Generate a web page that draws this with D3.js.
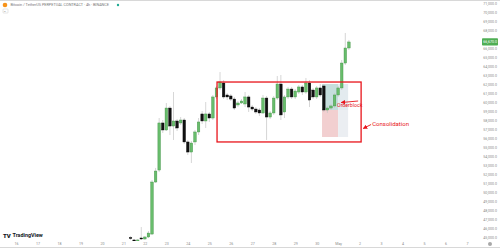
<!DOCTYPE html>
<html>
<head>
<meta charset="utf-8">
<script src="https://cdn.jsdelivr.net/npm/d3@7"></script>
<style>
  body { margin: 0; background: #fff; }
  svg { display: block; font-family: Roboto, "Liberation Sans", sans-serif; }
</style>
</head>
<body>
<div id="chart"></div>
<script>
"use strict";

// 4h candles, first bar at Apr 21 08:00
const firstBar = new Date(2024, 3, 21, 8);
const opens  = [44940,44670,44330,44890,44780,45000,45330,51110,52440,57670,56890,59330,57330,57890,57670,58000,55560,54440,55560,56670,
                58670,57890,58670,58220,60560,61560,62110,60780,60670,60330,59670,59890,59780,60560,59440,59220,59110,58780,60440,58330,
                58780,60440,62000,58890,60560,61440,60560,61110,61670,61110,62110,61330,60560,61560,61780,59110,59330,59560,60780,61560,
                64330,66000];
const highs  = [45110,44780,44780,46110,45110,45670,51330,52670,58220,58000,59890,59560,61110,58110,58330,58220,55780,55670,56890,58220,
                59000,60000,58890,60780,61780,63330,62440,61000,60890,60560,60110,60330,61110,60780,59670,59440,59330,60780,60670,59000,
                60670,62890,63000,60780,61670,61670,61440,61890,61890,62670,62440,61560,61780,62000,62000,59560,59780,61000,61780,64670,
                67670,66890];
const lows   = [44670,44220,44220,44670,44670,44890,45220,51000,52220,56560,56780,56330,55780,56780,57440,55330,54110,53220,55220,56330,
                57560,57110,57780,58000,60330,61330,60330,60220,60110,59110,59440,59780,59440,58890,59000,58670,58440,58670,55780,58110,
                58560,60220,58000,58220,60330,60330,60330,60890,60780,60890,59440,60330,60330,60560,58890,58780,59110,59330,60560,61330,
                64110,65780];
const closes = [44830,44440,44670,44780,45000,45440,51110,52330,57670,56890,59330,57330,57890,57110,58000,55560,54440,55440,56670,57780,
                57890,58670,58220,60560,61560,62220,60560,60560,60330,59330,59890,60110,60560,59440,59220,58890,58780,60440,58330,58780,
                60440,62000,58560,60560,61440,60560,61220,61670,61110,62110,60220,60560,61560,60780,59110,59330,59560,60780,61560,64330,
                66000,66670];

const priceTicks = [45000,46000,47000,48000,49000,50000,51000,52000,53000,54000,55000,56000,57000,58000,
                    59000,60000,61000,62000,63000,64000,65000,66000,67000,68000,69000,70000,71000];
const dayTicks = d3.timeDay.range(new Date(2024, 3, 16), new Date(2024, 4, 8));

// drawings: consolidation box, long position zone, notes
const boxStart = new Date(2024, 3, 25, 8, 40), boxEnd = new Date(2024, 4, 2, 1, 40);
const boxTop = 62220, boxBottom = 55560;
const posStart = new Date(2024, 3, 30, 6), posMid = new Date(2024, 4, 1, 0), posEnd = new Date(2024, 4, 1, 11, 10);
const posTarget = 62000, posEntry = 59110, posStop = 56110;
const notes = [
  { text: "Orderblock", t: new Date(2024, 3, 30, 22, 50), p: 59440, size: 5.2 },
  { text: "Consolidation", t: new Date(2024, 4, 2, 14), p: 57330, size: 6 }
];
const arrows = [
  { t0: new Date(2024, 4, 1, 22, 20), p0: 60110, t1: new Date(2024, 4, 1, 3, 20), p1: 59940 },
  { t0: new Date(2024, 4, 2, 12, 50), p0: 57500, t1: new Date(2024, 4, 2, 4), p1: 57060 }
];

const W = 500, H = 248;
const plotRight = 468, plotBottom = 241;

const candles = opens.map((o, i) => ({
  t: d3.timeHour.offset(firstBar, 4 * i), o: o, h: highs[i], l: lows[i], c: closes[i]
}));

const x = d3.scaleTime()
  .domain([new Date(2024, 3, 15, 6, 7), new Date(2024, 4, 7)])
  .range([0, 467]);
const y = d3.scaleLinear().domain([45000, 71000]).range([237, 3]);

const svg = d3.select("#chart").append("svg")
  .attr("width", W).attr("height", H);

svg.append("rect").attr("width", W).attr("height", H).attr("fill", "#fff");
svg.append("line").attr("x1", 0).attr("x2", W).attr("y1", 0.5).attr("y2", 0.5)
  .attr("stroke", "#d8d8d8");
svg.append("line").attr("x1", 0).attr("x2", W).attr("y1", H - 0.5).attr("y2", H - 0.5)
  .attr("stroke", "#d8d8d8");

svg.append("clipPath").attr("id", "plot")
  .append("rect").attr("width", plotRight).attr("height", plotBottom);

const g = svg.append("g").attr("clip-path", "url(#plot)");

// long position zone
const zones = [
  { a: posStart, b: posMid, top: posTarget, bot: posEntry, fill: "#c6dedd" },
  { a: posMid, b: posEnd, top: posTarget, bot: posEntry, fill: "#e3ebef" },
  { a: posStart, b: posMid, top: posEntry, bot: posStop, fill: "#f2cfd0" },
  { a: posMid, b: posEnd, top: posEntry, bot: posStop, fill: "#ebeef2" }
];
g.selectAll("rect.zone").data(zones).enter().append("rect")
  .attr("class", "zone")
  .attr("x", d => x(d.a)).attr("width", d => x(d.b) - x(d.a))
  .attr("y", d => y(d.top)).attr("height", d => y(d.bot) - y(d.top))
  .attr("fill", d => d.fill);

// candles
const bw = (x(d3.timeHour.offset(firstBar, 4)) - x(firstBar)) * 0.72;
const bars = g.selectAll("g.candle").data(candles).enter().append("g").attr("class", "candle");
bars.append("line")
  .attr("x1", d => x(d.t)).attr("x2", d => x(d.t))
  .attr("y1", d => y(d.h)).attr("y2", d => y(d.l))
  .attr("stroke", "#c4c4c4").attr("stroke-width", 0.7);
bars.append("rect")
  .attr("x", d => x(d.t) - bw / 2).attr("width", bw)
  .attr("y", d => y(Math.max(d.o, d.c)))
  .attr("height", d => Math.max(0.8, Math.abs(y(d.o) - y(d.c))))
  .attr("fill", d => d.c >= d.o ? "#68bd6c" : "#111")
  .attr("stroke", d => d.c >= d.o ? "#3f8f43" : "#000")
  .attr("stroke-width", 0.4);

// consolidation box
svg.append("rect")
  .attr("x", x(boxStart)).attr("y", y(boxTop))
  .attr("width", x(boxEnd) - x(boxStart)).attr("height", y(boxBottom) - y(boxTop))
  .attr("fill", "none").attr("stroke", "#e8151b").attr("stroke-width", 1.3);

// notes and arrows
svg.append("defs").append("marker")
  .attr("id", "head").attr("viewBox", "0 0 10 10").attr("refX", 9).attr("refY", 5)
  .attr("markerWidth", 5).attr("markerHeight", 5).attr("orient", "auto")
  .append("path").attr("d", "M0,0L10,5L0,10Z").attr("fill", "#e8151b");
svg.selectAll("line.arrow").data(arrows).enter().append("line")
  .attr("class", "arrow")
  .attr("x1", d => x(d.t0)).attr("y1", d => y(d.p0))
  .attr("x2", d => x(d.t1)).attr("y2", d => y(d.p1))
  .attr("stroke", "#e8151b").attr("stroke-width", 0.9)
  .attr("marker-end", "url(#head)");
svg.selectAll("text.note").data(notes).enter().append("text")
  .attr("class", "note")
  .attr("x", d => x(d.t)).attr("y", d => y(d.p))
  .attr("font-size", d => d.size).attr("fill", "#e8151b")
  .text(d => d.text);

// time axis
const fmtDay = d => d.getDate() === 1 ? d3.timeFormat("%b")(d) : d3.timeFormat("%-d")(d);
const xAxis = svg.append("g")
  .attr("transform", "translate(0," + 242 + ")")
  .call(d3.axisBottom(x).tickValues(dayTicks).tickFormat(fmtDay).tickSize(0).tickPadding(0));
xAxis.select(".domain").remove();
xAxis.selectAll("text").attr("font-size", 3.6).attr("fill", "#8a8a8a").attr("dy", "0.9em")
  .attr("font-family", "Roboto, sans-serif");

// price axis
const last = candles[candles.length - 1];
const yAxis = svg.append("g")
  .attr("transform", "translate(497,0)")
  .call(d3.axisLeft(y).tickValues(priceTicks.filter(p => Math.abs(y(p) - y(last.c)) > 5))
    .tickFormat(d3.format(",.1f")).tickSize(0).tickPadding(0));
yAxis.select(".domain").remove();
yAxis.selectAll("text").attr("font-size", 3.6).attr("fill", "#8a8a8a")
  .attr("font-family", "Roboto, sans-serif");

// last price label
svg.append("rect")
  .attr("x", 482).attr("y", y(last.c) - 3.6).attr("width", 16).attr("height", 7.2)
  .attr("rx", 0.8).attr("fill", "#4fae54");
svg.append("text")
  .attr("x", 497).attr("y", y(last.c)).attr("dy", "0.35em")
  .attr("text-anchor", "end").attr("font-size", 3.6).attr("fill", "#fff")
  .text(d3.format(",.1f")(last.c));

// header
svg.append("circle").attr("cx", 5).attr("cy", 5).attr("r", 2.3).attr("fill", "#f7931a");
svg.append("text").attr("x", 10.5).attr("y", 6.3).attr("font-size", 3.8).attr("fill", "#777")
  .text("Bitcoin / TetherUS PERPETUAL CONTRACT \u00b7 4h \u00b7 BINANCE");
svg.append("circle").attr("cx", 118).attr("cy", 5).attr("r", 1.2).attr("fill", "#22ab94");
svg.append("rect").attr("x", 3).attr("y", 9).attr("width", 5).attr("height", 4).attr("rx", 0.6)
  .attr("fill", "none").attr("stroke", "#c8c8c8").attr("stroke-width", 0.5);
svg.append("text").attr("x", 4).attr("y", 12.3).attr("font-size", 3).attr("fill", "#888").text("\u2261");

// footer
svg.append("text").attr("x", 3).attr("y", 237.5).attr("font-size", 6).attr("font-weight", 900)
  .attr("fill", "#131722").text("TV");
svg.append("text").attr("x", 12.5).attr("y", 237.3).attr("font-size", 5.4).attr("font-weight", 700)
  .attr("fill", "#131722").text("TradingView");
svg.append("circle").attr("cx", 490).attr("cy", 244).attr("r", 2).attr("fill", "#a8a8a8");
</script>
</body>
</html>
